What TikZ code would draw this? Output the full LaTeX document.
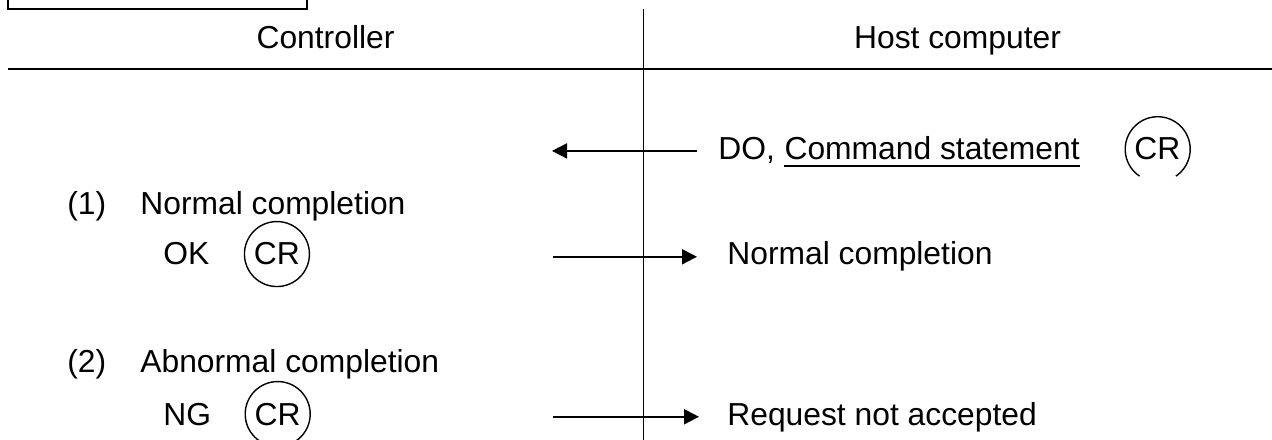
\documentclass[tikz,border=0pt]{standalone}
\usepackage{fontspec}
\setmainfont{Liberation Sans}
\usetikzlibrary{positioning}
\usetikzlibrary{arrows.meta}
\tikzset{>=stealth}

\begin{document}
\begin{tikzpicture}[x=0.5pt, y=0.5pt,
      font=\fontsize{15.9}{19}\selectfont,
      txt/.style={inner sep=0pt, anchor=base west},
      head/.style={inner sep=0pt, anchor=base},
      cr/.style={circle,
      draw,
      line width=0.7pt,
      minimum size=32.5pt,
      inner sep=0pt},
      line/.style={draw, line width=1pt, -{Triangle[length=7.5pt,width=7.5pt]}}]
    \useasboundingbox (0,0) rectangle (1272,439);
    %% Frame and columns
    \draw [line width=0.9pt] (8,460) rectangle (307,430);
    \draw [line width=1pt] (8,370) -- (1272,370);
    \draw [line width=0.5pt] (643,430) -- (643,-10);
    \node [head] (ctrl) at (325.5,390) {Controller};
    \node [head] (host) at (957.5,390) {Host computer};
    %% Command from host
    \node [txt] (do) at (718,279) {DO,};
    \node [txt, right=4.4pt of do.base east, anchor=base west] (cmd) {Command statement};
    \node [cr, draw=none, right=22pt of cmd] (crT) {CR};
    \draw [line width=0.7pt] (crT.-56) arc [start angle=-56, end angle=236, radius=16.25pt];
    \draw [line width=1pt] ([yshift=-3pt]cmd.base west) -- ([yshift=-3pt]cmd.base east);
    \coordinate [left=83pt of do.west] (doEnd);
    \path [line, shorten <=10.5pt] (do.west) -- (doEnd);
    %% Normal completion
    \node [txt] (n1) at (67,224) {(1)};
    \node [txt] (n1t) at (140,224) {Normal completion};
    \node [txt] (ok) at (163,174) {OK};
    \node [cr, right=17pt of ok] (crOK) {CR};
    \node [txt] (normal) at (727,174) {Normal completion};
    \coordinate [left=87pt of normal.west] (okStart);
    \path [line, shorten >=15pt] (okStart) -- (normal.west);
    %% Abnormal completion
    \node [txt] (n2) at (67,67) {(2)};
    \node [txt] (n2t) at (140,67) {Abnormal completion};
    \node [txt] (ng) at (163,14) {NG};
    \node [cr, right=16.5pt of ng] (crNG) {CR};
    \node [txt] (req) at (727,14) {Request not accepted};
    \coordinate [left=87pt of req.west] (ngStart);
    \path [line, shorten >=14pt] (ngStart) -- (req.west);
  \end{tikzpicture}
\end{document}
